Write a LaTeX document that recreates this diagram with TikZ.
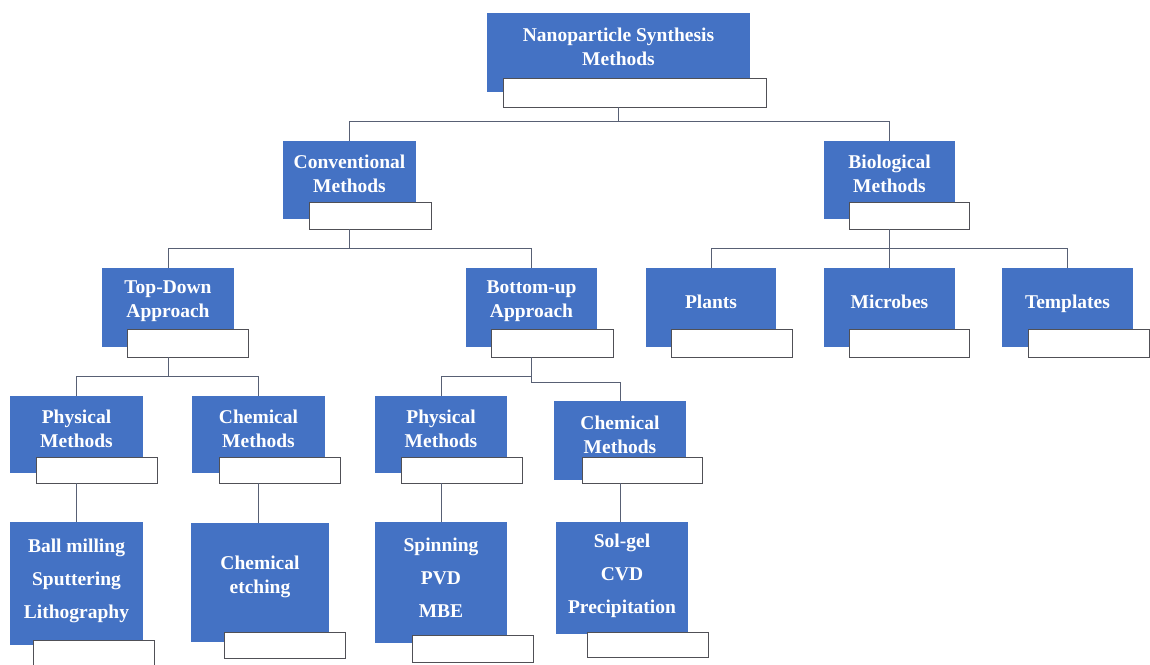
\documentclass[tikz,border=0pt]{standalone}
\usepackage{fontspec}
\setmainfont{Liberation Serif}
\usetikzlibrary{positioning}

\definecolor{nanoblue}{RGB}{68,114,196}
\definecolor{plateedge}{RGB}{80,80,86}
\definecolor{linkgray}{RGB}{88,96,116}

\begin{document}
\begin{tikzpicture}[x=1pt, y=-1pt,
  bluebox/.style={fill=nanoblue, draw=none, inner sep=0pt},
  plate/.style={fill=white, draw=plateedge, line width=0.9pt, inner sep=0pt},
  head text/.style={text=white, align=center, inner sep=0pt,
    font=\fontsize{19.5}{24}\selectfont\bfseries},
  leaf text/.style={head text, font=\fontsize{19.5}{33}\selectfont\bfseries},
  link/.style={draw=linkgray, line width=1pt}]

\useasboundingbox (0,0) rectangle (1150,664);

%% blue boxes
\foreach \n/\x/\y/\w/\h in {root/618.5/52.5/263/79, conv/349.5/180/133/78,
    bio/889.5/180/131/78, td/168/307.5/132/79, bu/531.5/307.5/131/79,
    plants/711/307.5/130/79, microbes/889.5/307.5/131/79,
    templates/1067.5/307.5/131/79, tdphys/76.5/434.5/133/77,
    tdchem/258.5/434.5/133/77, buphys/441/434.5/132/77,
    buchem/620/440.5/132/79, ballm/76.5/583.5/133/123,
    etch/260/582.5/138/119, spin/441/582.5/132/121, solgel/622/578/132/112}
  \node [bluebox, minimum width=\w, minimum height=\h] (\n) at (\x,\y) {};

%% white plates
\foreach \n/\x/\y/\w/\h in {root/634.5/92.5/263/29, conv/370/215.5/122/27,
    bio/909/215.5/120/27, td/187.5/343/121/28, bu/552/343/122/28,
    plants/731.5/343/121/28, microbes/909/343/120/28,
    templates/1088.5/343/121/28, tdphys/96.5/470/121/26,
    tdchem/279.5/470/121/26, buphys/461.5/470/121/26,
    buchem/642/470/120/26, ballm/93.5/653/121/26, etch/284.5/645/121/26,
    spin/472.5/648.5/121/27, solgel/647.5/644.5/121/25}
  \node [plate, minimum width=\w, minimum height=\h] (\n-w) at (\x,\y) {};

%% labels
\foreach \n/\s/\l in {root/6/{Nanoparticle Synthesis\\Methods},
    conv/6/{Conventional\\Methods}, bio/6/{Biological\\Methods},
    td/6/{Top-Down\\Approach}, bu/6/{Bottom-up\\Approach},
    plants/6/Plants, microbes/6/Microbes, templates/4/Templates,
    tdphys/6/{Physical\\Methods}, tdchem/6/{Chemical\\Methods},
    buphys/6/{Physical\\Methods}, buchem/6/{Chemical\\Methods},
    etch/6/{Chemical\\etching}}
  \node [head text] (\n-t) at ([yshift=\s pt]\n.center) {\l};

\foreach \n/\s/\l in {ballm/3/{Ball milling\\Sputtering\\Lithography},
    spin/5/{Spinning\\PVD\\MBE}, solgel/2/{Sol-gel\\CVD\\Precipitation}}
  \node [leaf text] (\n-t) at ([yshift=\s pt]\n.center) {\l};

%% connectors
\draw [link] (root.south |- root-w.south) -- ++(0,14) coordinate (root-bus);
\foreach \c in {conv,bio}
  \draw [link] (root-bus) -| (\c.north);

\draw [link] (conv.south |- conv-w.south) -- ++(0,19) coordinate (conv-bus);
\foreach \c in {td,bu}
  \draw [link] (conv-bus) -| (\c.north);

\draw [link] (bio.south |- bio-w.south) -- ++(0,19) coordinate (bio-bus);
\foreach \c in {plants,microbes,templates}
  \draw [link] (bio-bus) -| (\c.north);

\draw [link] (td.south |- td-w.south) -- ++(0,19) coordinate (td-bus);
\foreach \c in {tdphys,tdchem}
  \draw [link] (td-bus) -| (\c.north);

\draw [link] (bu.south |- bu-w.south) -- ++(0,19) coordinate (bu-bus);
\draw [link] (bu-bus) -| (buphys.north);
\draw [link] (bu-bus) -- ++(0,6) -| (buchem.north);

\foreach \p/\c in {tdphys/ballm, tdchem/etch, buphys/spin, buchem/solgel}
  \draw [link] (\p.south |- \p-w.south) -- (\p.south |- \c.north);

\end{tikzpicture}
\end{document}
